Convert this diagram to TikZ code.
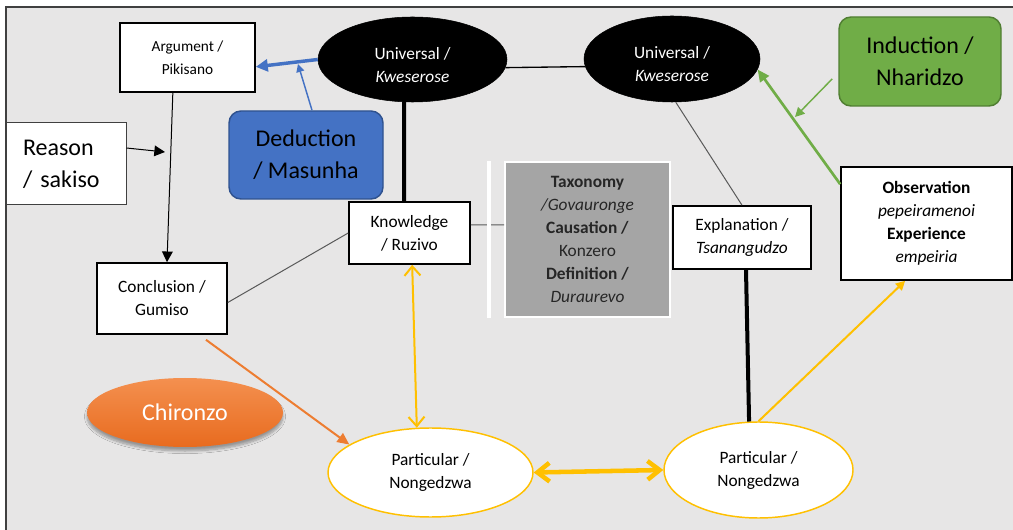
\documentclass[tikz,border=0pt]{standalone}
\usepackage{fontspec}
\setmainfont{Carlito}
\usetikzlibrary{shapes.geometric,arrows.meta,shadows.blur}

\begin{document}
\begin{tikzpicture}[x=0.75pt,y=-0.75pt,
    smallbox/.style={draw=black, line width=1.2pt, fill=white, align=center, inner sep=0pt,
        font=\fontsize{13}{17.25}\selectfont},
    bigbox/.style={line width=1.1pt, align=center, inner sep=0pt,
        font=\fontsize{18}{24}\selectfont},
    univ/.style={ellipse, fill=black, draw=black, text=white, align=center, inner sep=0pt,
        font=\fontsize{13}{17.25}\selectfont},
    partic/.style={ellipse, fill=white, draw=partyellow, line width=1.1pt, align=center, inner sep=0pt,
        font=\fontsize{13}{17.25}\selectfont},
    thinarrow/.style={draw=black, line width=0.75pt, -{Triangle[length=8pt,width=8pt]}},
    thickline/.style={draw=black, line width=3pt},
    blackline/.style={draw=black, line width=1pt},
    greyline/.style={draw=linegrey, line width=0.75pt},
    dedarrow/.style={draw=dedblue, line width=2.6pt, -{Triangle[length=9pt,width=9pt]}},
    dedthin/.style={draw=dedblue, line width=1.1pt, -{Triangle[length=6pt,width=6pt]}},
    grnarrow/.style={draw=indgreen, line width=2pt, -{Triangle[length=9pt,width=8pt]}},
    grnthin/.style={draw=indgreen, line width=1.1pt, -{Triangle[length=7pt,width=7pt]}},
    ylwdouble/.style={draw=partyellow, line width=1.5pt, {Straight Barb[length=7pt,width=12pt]}-{Straight Barb[length=7pt,width=12pt]}},
    ylwthick/.style={draw=partyellow, line width=3.4pt, {Straight Barb[length=9pt,width=14pt]}-{Straight Barb[length=9pt,width=14pt]}},
    ylwarrow/.style={draw=partyellow, line width=1.5pt, -{Triangle[length=7pt,width=7pt]}},
    orgarrow/.style={draw=chorange, line width=1.5pt, -{Triangle[length=9pt,width=8pt]}}
]
    % Define colors
    \definecolor{bggrey}{HTML}{E7E6E6}
    \definecolor{framegrey}{HTML}{404040}
    \definecolor{dedblue}{HTML}{4472C4}
    \definecolor{dedborder}{HTML}{2F528F}
    \definecolor{indgreen}{HTML}{70AD47}
    \definecolor{indborder}{HTML}{507E32}
    \definecolor{chorange}{HTML}{ED7D31}
    \definecolor{chlight}{HTML}{F4904F}
    \definecolor{chdark}{HTML}{E86B1F}
    \definecolor{partyellow}{HTML}{FFC000}
    \definecolor{taxgrey}{HTML}{A5A5A5}
    \definecolor{linegrey}{HTML}{595959}
    \definecolor{textdark}{HTML}{262626}

    % Page and grey frame
    \useasboundingbox (0,0) rectangle (1013,530);
    \fill[white] (0,0) rectangle (1013,530);
    \draw[framegrey, fill=bggrey, line width=0.9pt] (6,7) rectangle (1030,545);

    % Left column: argument, reason, conclusion
    \node[smallbox, font=\fontsize{11.5}{17.25}\selectfont, minimum width=101.25pt, minimum height=51.75pt] (arg) at (187.5,57.5) {Argument /\\Pikisano};
    \node[bigbox, draw=framegrey, line width=0.75pt, fill=white, align=left, text width=64.5pt,
          minimum width=90pt, minimum height=61.5pt] (reason) at (66,164) {Reason\\/ sakiso};
    \node[smallbox, minimum width=97.5pt, minimum height=53.25pt] (conc) at (162,298.5) {Conclusion /\\Gumiso};
    \node[bigbox, fill=dedblue, draw=dedborder, rounded corners=9pt,
          minimum width=115.5pt, minimum height=66pt] (ded) at (306,155) {Deduction\\/ Masunha};
    \node[ellipse, top color=chlight, bottom color=chdark, text=white, inner sep=0pt,
          minimum width=147pt, minimum height=51.75pt, font=\fontsize{18}{24}\selectfont,
          blur shadow={shadow xshift=0pt, shadow yshift=-3pt, shadow blur steps=8, shadow opacity=35}] (chir) at (185,412.5) {Chironzo};

    % Universals
    \node[univ, minimum width=141.75pt, minimum height=63.75pt] (u1) at (412.5,59.5) {\rule{0pt}{17pt}Universal /\\\textit{Kweserose}};
    \node[univ, minimum width=132pt, minimum height=64.5pt] (u2) at (672,59) {\rule{0pt}{17pt}Universal /\\\textit{Kweserose}};

    % Middle boxes
    \node[smallbox, minimum width=90.75pt, minimum height=46.5pt] (kn) at (409.5,233) {Knowledge\\/ Ruzivo};
    \node[draw=white, line width=1.5pt, fill=taxgrey, text=textdark, align=center, inner sep=0pt,
          minimum width=123.75pt, minimum height=116.25pt, font=\fontsize{13}{17.25}\selectfont] (tax) at (587.5,239.5)
          {\textbf{Taxonomy}\\\textit{/Govauronge}\\\textbf{Causation /}\\Konzero\\\textbf{Definition /}\\\textit{Duraurevo}};
    \node[smallbox, minimum width=103.5pt, minimum height=47.25pt] (expl) at (742,237.5) {Explanation /\\\textit{Tsanangudzo}};

    % Right column: induction, observation
    \node[bigbox, fill=indgreen, draw=indborder, rounded corners=9pt,
          minimum width=121.5pt, minimum height=66.75pt] (ind) at (920,61.5) {Induction /\\Nharidzo};
    \node[smallbox, minimum width=128.25pt, minimum height=84.75pt] (obs) at (926.5,223.5)
          {\textbf{Observation}\\\textit{pepeiramenoi}\\\textbf{Experience}\\\textit{empeiria}};

    % Particulars
    \node[partic, minimum width=153.75pt, minimum height=66.75pt] (p1) at (430.5,472.5) {Particular /\\Nongedzwa};
    \node[partic, minimum width=141.75pt, minimum height=72pt] (p2) at (758.5,470) {Particular /\\Nongedzwa};

    % Deduction side
    \coordinate (dedhit) at (298,64);
    \coordinate (reasonhit) at (165,152);
    \draw[dedarrow] (u1.west) -- ([yshift=-7pt]arg.east);
    \draw[dedthin] ([xshift=4.5pt]ded.north) -- (dedhit);
    \draw[thinarrow] ([xshift=-11pt]arg.south) -- ([xshift=3.75pt]conc.north);
    \draw[thinarrow] ([yshift=12pt]reason.east) -- (reasonhit);
    \draw[greyline] (kn.west) -- ([yshift=-3pt]conc.east);
    \draw[orgarrow] ([xshift=33pt,yshift=-3.75pt]conc.south) -- (p1.161);

    % Links between universals, knowledge and explanation
    \draw[blackline] (u1.-5) -- (u2.185);
    \draw[thickline] (u1.-101) -- ([xshift=-4pt]kn.north);
    \draw[greyline] ([yshift=6pt]kn.east) -- ([yshift=10.9pt]tax.west);
    \draw[white, line width=3pt] ([xshift=-11.25pt]tax.north west) -- ([xshift=-11.25pt]tax.south west);
    \draw[greyline] (u2.-85) -- (expl.north);
    \draw[thickline] ([xshift=3pt]expl.south) -- (p2.101);

    % Yellow arrows
    \draw[ylwdouble] ([xshift=2pt]kn.south) -- (p1.107);
    \draw[ylwthick] (p1.east) -- (p2.west);
    \draw[ylwarrow] (p2.north) -- ([xshift=-16pt]obs.south);

    % Induction side
    \coordinate (indhit) at (795,117);
    \draw[grnarrow] ([yshift=-13.5pt]obs.north west) -- (u2.-7);
    \draw[grnthin] ([xshift=-4.5pt,yshift=-13pt]ind.west) -- (indhit);

\end{tikzpicture}
\end{document}
